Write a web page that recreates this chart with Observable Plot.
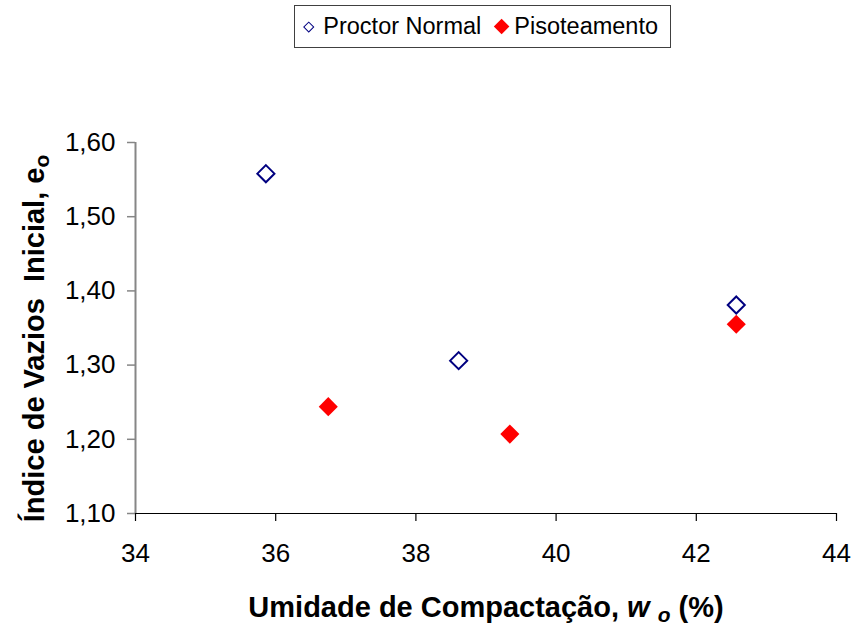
<!DOCTYPE html>
<html>
<head>
<meta charset="utf-8">
<script src="https://cdn.jsdelivr.net/npm/d3@7"></script>
<script src="https://cdn.jsdelivr.net/npm/@observablehq/plot@0.6"></script>
<style>
  body { margin: 0; background: #fff; font-family: "Liberation Sans", Arial, sans-serif; }
  #wrap { position: relative; width: 853px; height: 628px; overflow: hidden; background: #fff; }
  #chart { position: absolute; left: 0; top: 0; }
  #legend { position: absolute; left: 294px; top: 5px; width: 377px; height: 43px; box-sizing: border-box;
            border: 1px solid #404040; display: flex; align-items: center; padding-left: 8px;
            font-size: 23.5px; color: #000; background: #fff; white-space: nowrap; }
  .sw { display: inline-flex; align-items: center; justify-content: center; }
  .sw1 { width: 12.3px; height: 12.3px; margin-right: 8px; }
  .sw1 span { display: block; width: 5.5px; height: 5.5px; border: 1.6px solid #000080; transform: rotate(45deg); }
  .sw2 { width: 16px; height: 16px; margin-left: 12px; margin-right: 5px; }
  .sw2 span { display: block; width: 11.2px; height: 11.2px; background: #ff0000; transform: rotate(45deg); }
  .title { position: absolute; font-weight: bold; font-size: 29px; line-height: 29px; height: 29px;
           text-align: center; color: #000; white-space: pre; }
  #xtitle { left: 186px; top: 593px; width: 600px; }
  #ytitle { left: -216px; top: 323.5px; width: 500px; transform: rotate(-90deg); transform-origin: 50% 50%; }
  .title sub { font-size: 0.72em; line-height: 0; vertical-align: -0.25em; }
</style>
</head>
<body>
<div id="wrap">
  <div id="chart"></div>
  <div id="legend"></div>
  <div id="xtitle" class="title"></div>
  <div id="ytitle" class="title"></div>
</div>
<script>
// ---- data ----
const seriesNames = ["Proctor Normal", "Pisoteamento"];
const proctorW = [35.86, 38.61, 42.57];
const proctorE = [1.558, 1.306, 1.381];
const pisoW = [36.75, 39.34, 42.57];
const pisoE = [1.244, 1.207, 1.355];
const xTicks = [34, 36, 38, 40, 42, 44];
const yTicks = [1.10, 1.20, 1.30, 1.40, 1.50, 1.60];
const xTitle = "Umidade de Compactação, ";
const yTitle = "Índice de Vazios  Inicial, e";

const proctor = proctorW.map((w, i) => ({w, e: proctorE[i]}));
const piso = pisoW.map((w, i) => ({w, e: pisoE[i]}));

const chart = Plot.plot({
  width: 853,
  height: 628,
  marginTop: 142,
  marginBottom: 115,
  marginLeft: 135,
  marginRight: 17,
  x: {domain: [34, 44]},
  y: {domain: [1.10, 1.60]},
  style: {fontFamily: "'Liberation Sans', Arial, sans-serif", fontSize: "26px", color: "#000", background: "#fff", overflow: "visible"},
  marks: [
    Plot.ruleX([34], {stroke: "#868686", strokeWidth: 2}),
    Plot.ruleY([1.10], {stroke: "#000", strokeWidth: 1.2}),
    Plot.axisY({ticks: yTicks, tickSize: 8, tickPadding: 12, label: null,
      tickFormat: d => d.toFixed(2).replace(".", ","), stroke: "#868686", fill: "#000", strokeWidth: 1.5, fontSize: 26}),
    Plot.axisX({ticks: xTicks, tickSize: 8, tickPadding: 22, label: null,
      tickFormat: d => String(d), stroke: "#000", fill: "#000", strokeWidth: 1.2, fontSize: 26}),
    Plot.dot(proctor, {x: "w", y: "e", symbol: "diamond2", r: 7.7, stroke: "#000080", strokeWidth: 2, fill: "none"}),
    Plot.dot(piso, {x: "w", y: "e", symbol: "diamond2", r: 8.6, fill: "#ff0000", stroke: "none"})
  ]
});
document.getElementById("chart").appendChild(chart);

// legend
const lg = document.getElementById("legend");
lg.innerHTML = `<span class="sw sw1"><span></span></span><span>${seriesNames[0]}</span>` +
               `<span class="sw sw2"><span></span></span><span>${seriesNames[1]}</span>`;

// axis titles
document.getElementById("xtitle").innerHTML = xTitle + "<i>w</i> <sub><i>o</i></sub> (%)";
document.getElementById("ytitle").innerHTML = yTitle + "<sub>o</sub>";
</script>
</body>
</html>
